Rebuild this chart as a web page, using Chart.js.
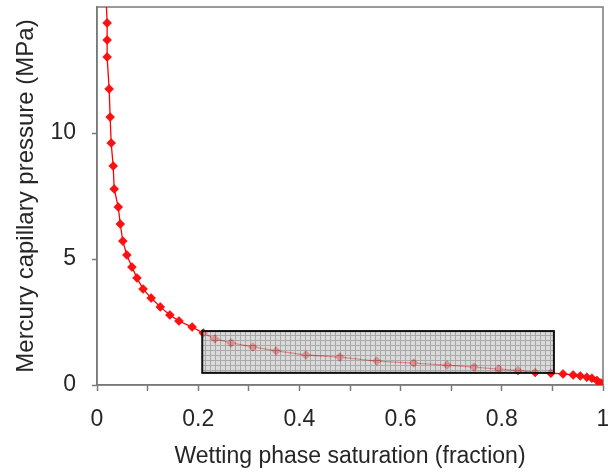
<!DOCTYPE html>
<html><head><meta charset="utf-8">
<script src="https://cdn.jsdelivr.net/npm/chart.js@4/dist/chart.umd.min.js"></script>
<style>html,body{margin:0;padding:0;background:#fff}#wrap{width:608px;height:472px}</style>
</head><body><div id="wrap"><canvas id="c" width="608" height="472"></canvas></div>
<script>
// Wetting phase saturation (fraction)
const saturation = [0.018, 0.020, 0.020, 0.020, 0.024, 0.026, 0.028, 0.032, 0.034, 0.042, 0.046, 0.051, 0.059, 0.069, 0.079, 0.091, 0.107, 0.125, 0.144, 0.162, 0.188, 0.210, 0.233, 0.265, 0.308, 0.354, 0.413, 0.480, 0.553, 0.626, 0.692, 0.745, 0.794, 0.832, 0.866, 0.897, 0.921, 0.941, 0.955, 0.968, 0.978, 0.988, 0.996, 1.000];
// Mercury capillary pressure (MPa)
const pressure = [15.3, 14.37, 13.69, 13.02, 11.75, 10.63, 9.60, 8.69, 7.78, 7.06, 6.39, 5.71, 5.16, 4.68, 4.25, 3.81, 3.45, 3.10, 2.78, 2.54, 2.30, 2.06, 1.83, 1.67, 1.51, 1.35, 1.19, 1.11, 0.95, 0.87, 0.79, 0.71, 0.63, 0.58, 0.50, 0.47, 0.44, 0.40, 0.36, 0.31, 0.27, 0.18, 0.08, 0.0];
const xTickLabels = [0, 0.2, 0.4, 0.6, 0.8, 1];
const yTickLabels = [0, 5, 10];
// highlighted rectangle (data units)
const boxSaturation = [0.208, 0.903];
const boxPressure = [0.48, 2.14];

const FONT = "'Liberation Sans', Arial, sans-serif";
const AXIS = '#7a7a7a';
const TEXT = '#262626';

function makePattern(ctx){
  const p = document.createElement('canvas');
  p.width = 5; p.height = 5;
  const c = p.getContext('2d');
  c.fillStyle = '#cbcbcb'; c.fillRect(0,0,5,5);
  c.fillStyle = '#858585';
  c.fillRect(0,0,5,1); c.fillRect(0,0,1,5);
  return ctx.createPattern(p,'repeat');
}

const framePlugin = {
  id:'frame',
  beforeDatasetsDraw(chart){
    const {ctx, chartArea:a} = chart;
    ctx.save();
    ctx.strokeStyle = AXIS; ctx.lineWidth = 1.5;
    ctx.strokeRect(a.left, a.top, a.right-a.left, a.bottom-a.top);
    ctx.restore();
  },
  afterDatasetsDraw(chart){
    const {ctx} = chart;
    const xs = chart.scales.x, ys = chart.scales.y;
    const x1 = xs.getPixelForValue(boxSaturation[0]), x2 = xs.getPixelForValue(boxSaturation[1]);
    const y1 = ys.getPixelForValue(boxPressure[1]), y2 = ys.getPixelForValue(boxPressure[0]);
    ctx.save();
    ctx.globalAlpha = 0.7;
    ctx.fillStyle = makePattern(ctx);
    ctx.fillRect(x1, y1, x2-x1, y2-y1);
    ctx.globalAlpha = 1;
    ctx.strokeStyle = '#111'; ctx.lineWidth = 2;
    ctx.strokeRect(x1, y1, x2-x1, y2-y1);
    ctx.restore();
  }
};

new Chart(document.getElementById('c'), {
  type:'scatter',
  data:{datasets:[{
    data: saturation.map((s,i)=>({x:s, y:pressure[i]})),
    showLine:true,
    borderColor:'#ff0000',
    borderWidth:1.3,
    backgroundColor:'#ff1010',
    pointStyle:'rectRot',
    pointRadius: saturation.map((s,i)=> i===0 ? 0 : 4.5),
    pointBorderWidth:0.5,
    pointBorderColor:'#e00000',
    tension:0
  }]},
  options:{
    responsive:false,
    animation:false,
    events:[],
    layout:{padding:{left:0,right:5,top:7,bottom:0}},
    plugins:{legend:{display:false}, tooltip:{enabled:false}},
    scales:{
      x:{
        type:'linear', min:0, max:1,
        afterBuildTicks(s){ s.ticks = Array.from({length:11},(_,i)=>({value:i/10})); },
        afterFit(s){ s.height = 87; s.paddingLeft = 0; s.paddingRight = 0; },
        grid:{display:true, drawOnChartArea:false, drawTicks:true, tickLength:6, color:AXIS, tickWidth:1.5},
        border:{display:true, color:AXIS, width:1.5},
        ticks:{
          padding:15, color:TEXT, font:{family:FONT, size:23}, maxRotation:0, autoSkip:false,
          callback(v){ const r = Math.round(v*10)/10; return xTickLabels.includes(r) ? String(r) : ''; }
        },
        title:{display:true, text:'Wetting phase saturation (fraction)', color:TEXT, font:{family:FONT, size:23}, padding:{top:4,bottom:2}}
      },
      y:{
        type:'linear', min:0, max:15,
        afterBuildTicks(s){ s.ticks = yTickLabels.map(v=>({value:v})); },
        afterFit(s){ s.width = 97; s.paddingTop = 0; s.paddingBottom = 0; },
        grid:{display:true, drawOnChartArea:false, drawTicks:true, tickLength:5, color:AXIS, tickWidth:1.5},
        border:{display:true, color:AXIS, width:1.5},
        ticks:{padding:16, color:TEXT, font:{family:FONT, size:23}},
        title:{display:true, text:'Mercury capillary pressure (MPa)', color:TEXT, font:{family:FONT, size:24}, padding:{top:12,bottom:2}}
      }
    }
  },
  plugins:[framePlugin]
});
</script>
</body></html>
